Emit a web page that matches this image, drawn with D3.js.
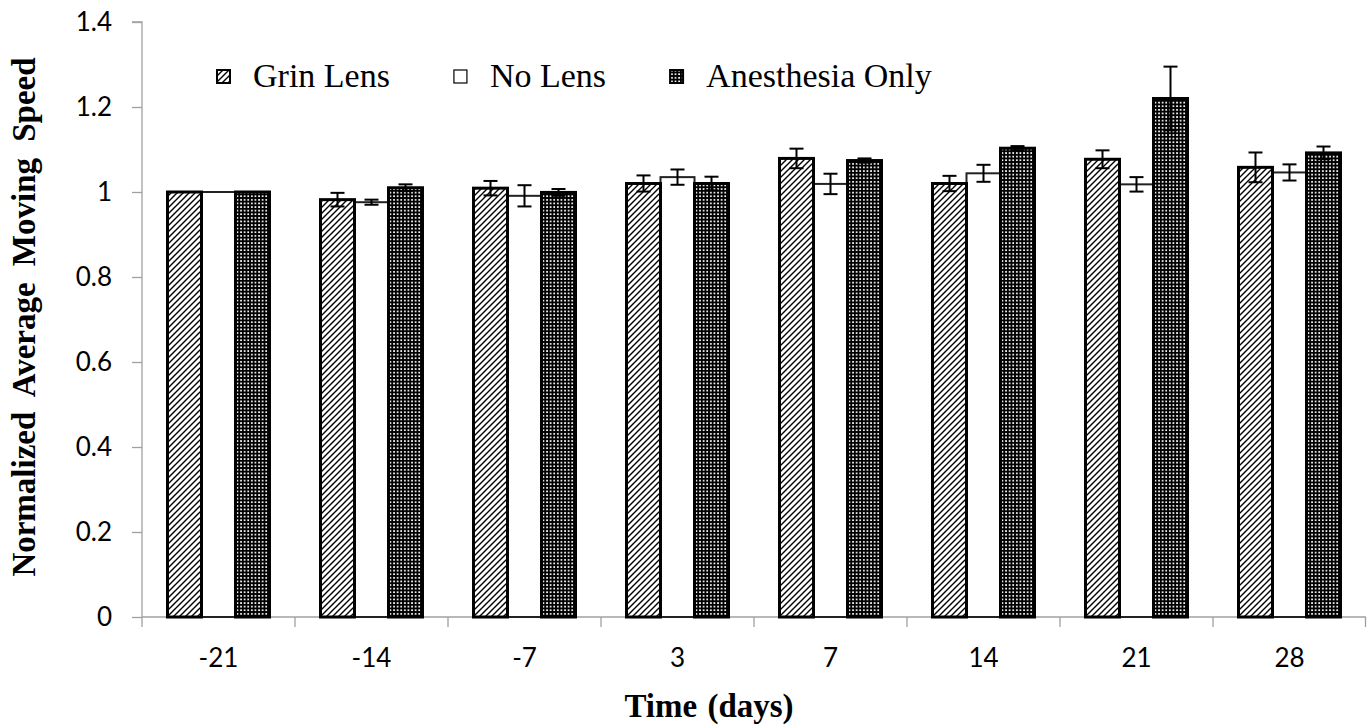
<!DOCTYPE html>
<html lang="en">
<head>
  <meta charset="UTF-8">
  <title>Normalized Average Moving Speed</title>
  <script src="https://d3js.org/d3.v7.min.js"></script>
  <style>
    * { margin: 0; padding: 0; box-sizing: border-box; }
    body { background: #fff; }
    svg { display: block; }
    .serif { font-family: "Liberation Serif", "Times New Roman", serif; }
    .sans { font-family: Lato, "Open Sans", sans-serif; }
  </style>
</head>
<body>
  <div id="chart"></div>

  <script>
    const days = ["-21", "-14", "-7", "3", "7", "14", "21", "28"];
    const groups = ["Grin Lens", "No Lens", "Anesthesia Only"];

    const grinLens   = [1.000, 0.982, 1.009, 1.020, 1.079, 1.020, 1.077, 1.058];
    const grinErr    = [0.000, 0.016, 0.017, 0.019, 0.023, 0.018, 0.021, 0.035];
    const noLens     = [1.000, 0.976, 0.991, 1.035, 1.019, 1.044, 1.018, 1.046];
    const noLensErr  = [0.000, 0.006, 0.025, 0.018, 0.024, 0.020, 0.017, 0.019];
    const anesthesia = [1.000, 1.010, 0.999, 1.020, 1.074, 1.103, 1.220, 1.092];
    const anesErr    = [0.000, 0.008, 0.008, 0.016, 0.005, 0.005, 0.075, 0.015];

    const yTicks = [0, 0.2, 0.4, 0.6, 0.8, 1, 1.2, 1.4];

    const W = 1367, H = 726;
    const margin = {top: 22, right: 1, bottom: 109, left: 142};
    const x0Start = margin.left, x0End = W - margin.right;
    const yBottom = H - margin.bottom;

    const svg = d3.select("#chart").append("svg")
      .attr("width", W).attr("height", H);

    // fill patterns
    const defs = svg.append("defs");
    const hatch = defs.append("pattern")
      .attr("id", "hatch").attr("patternUnits", "userSpaceOnUse")
      .attr("width", 6).attr("height", 6);
    hatch.append("rect").attr("width", 6).attr("height", 6).attr("fill", "#fff");
    hatch.append("path")
      .attr("d", "M-1,1 l2,-2 M0,6 l6,-6 M5,7 l2,-2")
      .attr("stroke", "#000").attr("stroke-width", 1.4);

    const dots = defs.append("pattern")
      .attr("id", "dots").attr("patternUnits", "userSpaceOnUse")
      .attr("width", 3.6).attr("height", 3.6);
    dots.append("rect").attr("width", 3.6).attr("height", 3.6).attr("fill", "#000");
    dots.append("rect").attr("x", 1).attr("y", 1).attr("width", 1.7).attr("height", 1.7).attr("fill", "#fff");

    const fills = {"Grin Lens": "url(#hatch)", "No Lens": "#fff", "Anesthesia Only": "url(#dots)"};
    const strokes = {"Grin Lens": 3, "No Lens": 2, "Anesthesia Only": 3};

    const x0 = d3.scaleBand().domain(days).range([x0Start, x0End]).padding(0);
    const x1 = d3.scaleBand().domain(groups).range([0, x0.bandwidth()])
      .paddingInner(0).paddingOuter(0.75);
    const y = d3.scaleLinear().domain([0, 1.4]).range([yBottom, margin.top]);

    const rows = days.map((d, i) => ({
      day: d,
      vals: [
        {g: "Grin Lens", v: grinLens[i], e: grinErr[i]},
        {g: "No Lens", v: noLens[i], e: noLensErr[i]},
        {g: "Anesthesia Only", v: anesthesia[i], e: anesErr[i]}
      ]
    }));

    // y axis
    const yAxis = svg.append("g")
      .attr("transform", `translate(${x0Start},0)`)
      .call(d3.axisLeft(y).tickValues(yTicks).tickSize(10).tickPadding(20)
        .tickFormat(d3.format("~g")));
    yAxis.selectAll("path, line").attr("stroke", "#a0a0a0").attr("stroke-width", 1.3);
    yAxis.select(".domain").attr("d", `M-10,${y(1.4)}H0V${yBottom}`);
    yAxis.selectAll("text")
      .attr("class", "sans")
      .attr("font-family", null)
      .style("font-size", "26px").attr("fill", "#000");

    // x axis
    const xAxis = svg.append("g")
      .attr("transform", `translate(0,${yBottom})`);
    xAxis.append("line")
      .attr("x1", x0Start).attr("x2", x0End)
      .attr("stroke", "#a0a0a0").attr("stroke-width", 1.3);
    xAxis.selectAll(".tk")
      .data(days.concat(["end"]))
      .enter().append("line")
      .attr("x1", (d, i) => i < days.length ? x0(d) : x0End - 0.5)
      .attr("x2", (d, i) => i < days.length ? x0(d) : x0End - 0.5)
      .attr("y1", 0).attr("y2", 10)
      .attr("stroke", "#a0a0a0").attr("stroke-width", 1.3);
    xAxis.selectAll(".lbl")
      .data(days)
      .enter().append("text")
      .attr("class", "sans")
      .attr("x", d => x0(d) + x0.bandwidth() / 2)
      .attr("y", 50)
      .attr("text-anchor", "middle")
      .style("font-size", "26px")
      .text(d => d);

    // bars
    const grp = svg.append("g").selectAll("g")
      .data(rows).enter().append("g")
      .attr("transform", d => `translate(${x0(d.day)},0)`);

    const order = ["No Lens", "Grin Lens", "Anesthesia Only"];
    grp.selectAll("rect")
      .data(d => d.vals.slice().sort((a, b) => order.indexOf(a.g) - order.indexOf(b.g)))
      .enter().append("rect")
      .attr("x", d => x1(d.g))
      .attr("y", d => y(d.v))
      .attr("width", x1.bandwidth())
      .attr("height", d => y(0) - y(d.v))
      .attr("fill", d => fills[d.g])
      .attr("stroke", d => d.g === "No Lens" ? "#222" : "#000")
      .attr("stroke-width", d => strokes[d.g]);

    // error bars
    const eb = grp.selectAll(".err")
      .data(d => d.vals.filter(v => v.e > 0))
      .enter().append("g").attr("class", "err");
    const cx = d => x1(d.g) + x1.bandwidth() / 2;
    eb.append("line")
      .attr("x1", cx).attr("x2", cx)
      .attr("y1", d => y(d.v + d.e)).attr("y2", d => y(d.v - d.e));
    eb.append("line")
      .attr("x1", d => cx(d) - 7).attr("x2", d => cx(d) + 7)
      .attr("y1", d => y(d.v + d.e)).attr("y2", d => y(d.v + d.e));
    eb.append("line")
      .attr("x1", d => cx(d) - 7).attr("x2", d => cx(d) + 7)
      .attr("y1", d => y(d.v - d.e)).attr("y2", d => y(d.v - d.e));
    eb.selectAll("line").attr("stroke", "#000").attr("stroke-width", 2);

    // legend
    const legend = svg.append("g").attr("transform", "translate(217,76)");
    let lx = 0;
    groups.forEach(g => {
      const item = legend.append("g").attr("transform", `translate(${lx},0)`);
      item.append("rect")
        .attr("x", 0).attr("y", -6).attr("width", 13).attr("height", 13)
        .attr("fill", fills[g]).attr("stroke", "#000").attr("stroke-width", g === "No Lens" ? 1.2 : 2);
      const t = item.append("text")
        .attr("class", "serif")
        .attr("x", 36).attr("y", 11)
        .style("font-size", "34px")
        .text(g);
      lx += 36 + t.node().getComputedTextLength() + 64;
    });

    // axis titles
    svg.append("text")
      .attr("class", "serif")
      .attr("x", 709)
      .attr("y", 717)
      .attr("text-anchor", "middle")
      .style("font-weight", "bold")
      .style("font-size", "33px")
      .style("word-spacing", "2px")
      .text("Time (days)");

    svg.append("text")
      .attr("class", "serif")
      .attr("transform", `translate(35,317) rotate(-90)`)
      .attr("text-anchor", "middle")
      .style("font-weight", "bold")
      .style("font-size", "33px")
      .style("word-spacing", "8px")
      .text("Normalized Average Moving Speed");
  </script>
</body>
</html>
